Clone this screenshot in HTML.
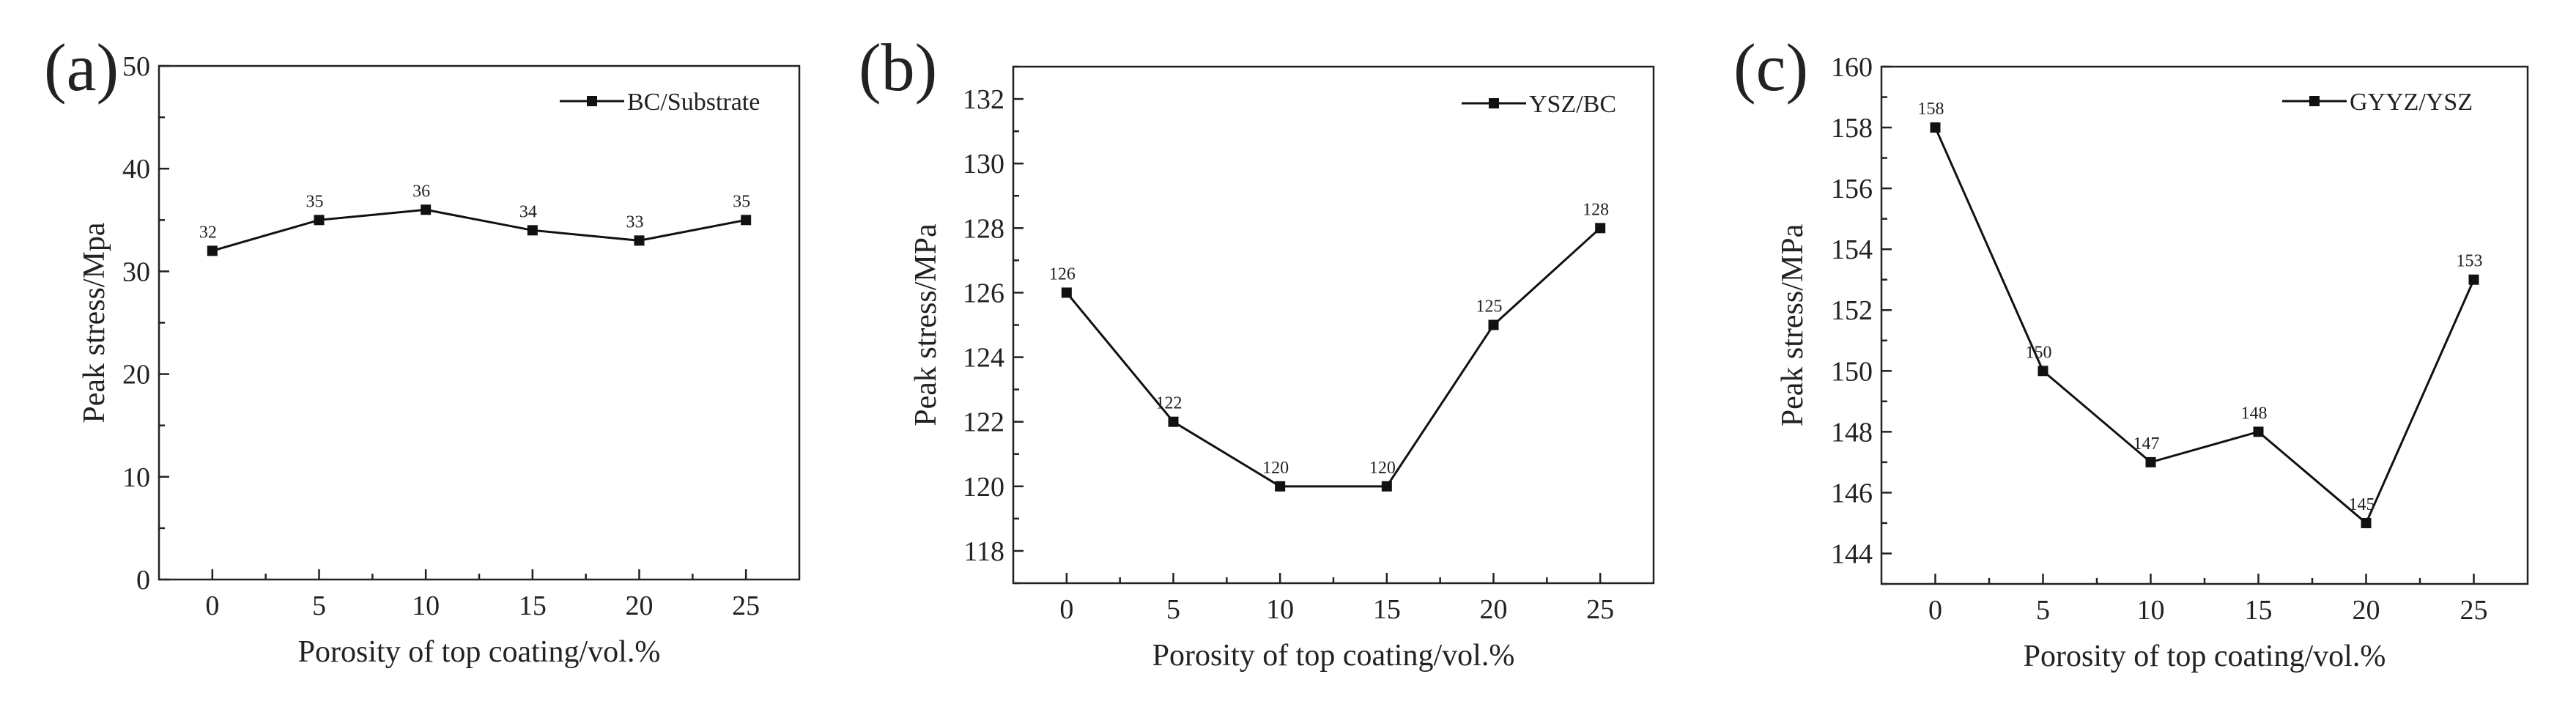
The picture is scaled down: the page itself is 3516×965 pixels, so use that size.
<!DOCTYPE html>
<html><head><meta charset="utf-8"><style>
html,body{margin:0;padding:0;background:#fff;}
svg{display:block;font-family:"Liberation Serif",serif;}
</style></head><body>
<svg id="fig" width="3516" height="965" viewBox="0 0 3516 965"></svg>
<script>
const categories = [0, 5, 10, 15, 20, 25];
const seriesA = [32, 35, 36, 34, 33, 35];
const seriesB = [126, 122, 120, 120, 125, 128];
const seriesC = [158, 150, 147, 148, 145, 153];
const yTicksA = [0, 10, 20, 30, 40, 50];
const yTicksB = [118, 120, 122, 124, 126, 128, 130, 132];
const yTicksC = [144, 146, 148, 150, 152, 154, 156, 158, 160];
const legendNames = ["BC/Substrate", "YSZ/BC", "GYYZ/YSZ"];
const yTitles = ["Peak stress/Mpa", "Peak stress/MPa", "Peak stress/MPa"];

const NS = "http://www.w3.org/2000/svg";
const svg = document.getElementById("fig");
function mk(tag, attrs, parent, text){
  const e = document.createElementNS(NS, tag);
  for (const k in attrs) e.setAttribute(k, attrs[k]);
  if (text !== undefined) e.textContent = text;
  parent.appendChild(e);
  return e;
}
function panel(o){
  const g = mk("g", {}, svg);
  
  
  const xs = v => o.L + (v - o.xmin) / (o.xmax - o.xmin) * (o.R - o.L);
  const ys = v => o.B - (v - o.ymin) / (o.ymax - o.ymin) * (o.B - o.T);
  const fr = mk("rect", {x:o.L, y:o.T, width:o.R-o.L, height:o.B-o.T, fill:"none", stroke:"#222", "stroke-width":2.5}, g);
  
  
  // x ticks
  for (let v = 0; v <= 25; v += 2.5) {
    const major = v % 5 === 0;
    mk("line", {x1:xs(v), x2:xs(v), y1:o.B, y2:o.B-(major?14:8), stroke:"#222", "stroke-width":2.5}, g);
  }
  categories.forEach(c => {
    const t = mk("text", {x:xs(c), y:o.B+48, "font-size":38, "text-anchor":"middle", fill:"#222"}, g, String(c));
    
    
  });
  // y ticks
  const step = o.yt[1] - o.yt[0];
  for (let i = 0; i < o.yt.length; i++) {
    const v = o.yt[i];
    mk("line", {x1:o.L, x2:o.L+14, y1:ys(v), y2:ys(v), stroke:"#222", "stroke-width":2.5}, g);
    const t = mk("text", {x:o.L-12, y:ys(v)+13, "font-size":38, "text-anchor":"end", fill:"#222"}, g, String(v));
    
    
  }
  for (let v = o.yt[0] - step/2; v <= o.ymax; v += step) {
    if (v < o.ymin) continue;
    mk("line", {x1:o.L, x2:o.L+8, y1:ys(v), y2:ys(v), stroke:"#222", "stroke-width":2.5}, g);
  }
  // titles
  const xt = mk("text", {x:(o.L+o.R)/2, y:o.B+112, "font-size":42, "text-anchor":"middle", fill:"#222"}, g, "Porosity of top coating/vol.%");
  
  
  const cy = (o.T+o.B)/2;
  const yt = mk("text", {x:o.ytx, y:cy, "font-size":42, "text-anchor":"middle", fill:"#222", transform:`rotate(-90 ${o.ytx} ${cy})`}, g, o.ytitle);
  
  
  const pl = mk("text", {x:o.plx, y:123, "font-size":92, fill:"#222"}, g, o.label);
  
  
  // series
  const pts = categories.map((c,i) => xs(c)+","+ys(o.data[i])).join(" ");
  const line = mk("polyline", {points:pts, fill:"none", stroke:"#111", "stroke-width":3}, g);
  
  
  categories.forEach((c,i) => {
    const m = mk("rect", {x:xs(c)-7, y:ys(o.data[i])-7, width:14, height:14, fill:"#111"}, g);
    
    
    const t = mk("text", {x:xs(c)-6, y:ys(o.data[i])-18, "font-size":24, "text-anchor":"middle", fill:"#222"}, g, String(o.data[i]));
    
    
  });
  // legend
  const lg = mk("g", {}, g);
  
  
  mk("line", {x1:o.lgx, x2:o.lgx+88, y1:o.lgy, y2:o.lgy, stroke:"#111", "stroke-width":3}, lg);
  mk("rect", {x:o.lgx+37, y:o.lgy-7, width:14, height:14, fill:"#111"}, lg);
  mk("text", {x:o.lgx+92, y:o.lgy+12, "font-size":34, fill:"#222"}, lg, o.name);
}
panel({id:"a", L:217, R:1091, T:90, B:791, xmin:-2.5, xmax:27.5, ymin:0, ymax:50, yt:yTicksA, data:seriesA,
  name:legendNames[0], ytitle:yTitles[0], ytx:142, label:"(a)", plx:60, lgx:764, lgy:138});
panel({id:"b", L:1383, R:2257, T:91, B:796, xmin:-2.5, xmax:27.5, ymin:117, ymax:133, yt:yTicksB, data:seriesB,
  name:legendNames[1], ytitle:yTitles[1], ytx:1277, label:"(b)", plx:1172, lgx:1995, lgy:141});
panel({id:"c", L:2568, R:3450, T:91, B:797, xmin:-2.5, xmax:27.5, ymin:143, ymax:160, yt:yTicksC, data:seriesC,
  name:legendNames[2], ytitle:yTitles[2], ytx:2460, label:"(c)", plx:2366, lgx:3115, lgy:138});
</script>
</body></html>
